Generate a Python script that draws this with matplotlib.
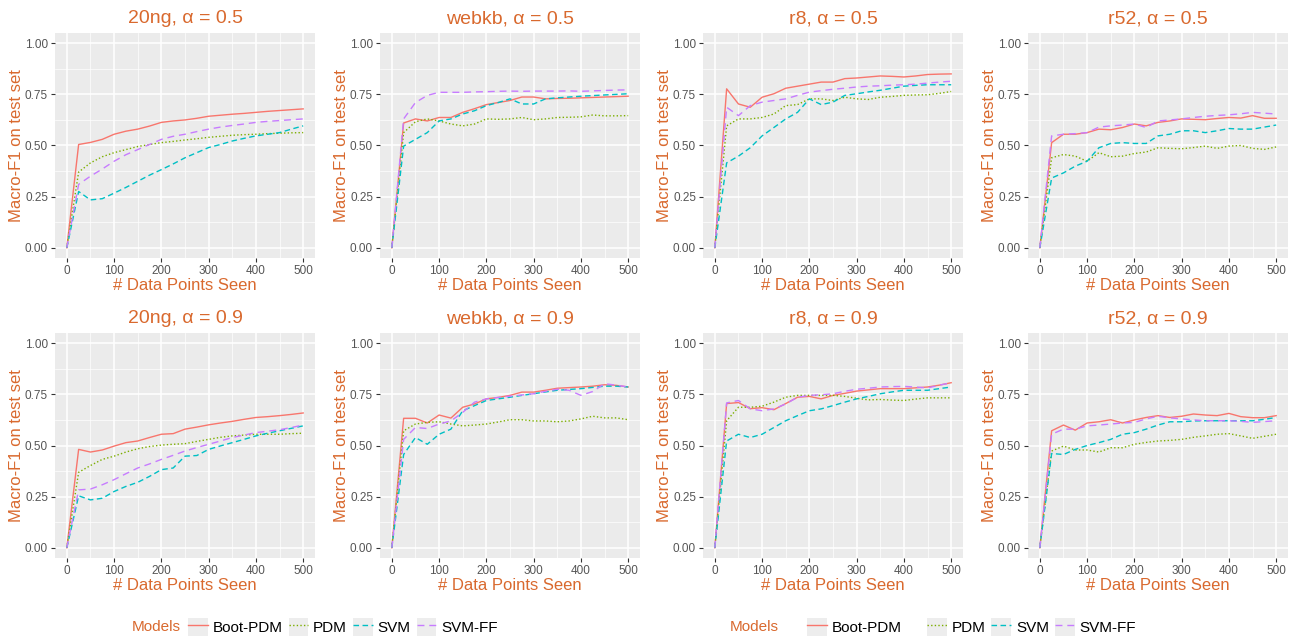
import matplotlib
matplotlib.use('Agg')
import matplotlib.pyplot as plt
from matplotlib.patches import Rectangle
from matplotlib.lines import Line2D
from matplotlib.legend_handler import HandlerTuple

plt.rcParams['font.family'] = ['Liberation Sans', 'DejaVu Sans']

x = [0, 25, 50, 75, 100, 125, 150, 175, 200, 225, 250, 275, 300, 325, 350, 375, 400, 425, 450, 475, 500]
models = ['Boot-PDM', 'PDM', 'SVM', 'SVM-FF']

# 20ng, alpha = 0.5
ng_05_boot = [0, .505, .515, .53, .555, .57, .58, .595, .613, .62, .625, .633, .643, .648, .653, .657, .662, .667, .671, .675, .679]
ng_05_pdm = [0, .37, .415, .445, .465, .48, .495, .505, .514, .52, .527, .533, .54, .545, .55, .553, .555, .558, .56, .562, .563]
ng_05_svm = [0, .275, .234, .24, .267, .295, .325, .355, .382, .41, .44, .465, .49, .505, .522, .535, .547, .555, .563, .58, .596]
ng_05_svmff = [0, .31, .35, .385, .423, .455, .48, .505, .53, .545, .555, .568, .58, .59, .598, .605, .613, .618, .622, .626, .63]

# webkb, alpha = 0.5
wk_05_boot = [0, .61, .63, .62, .637, .637, .662, .68, .70, .71, .72, .737, .737, .728, .73, .731, .733, .735, .737, .739, .741]
wk_05_pdm = [0, .563, .616, .63, .62, .605, .596, .605, .63, .628, .63, .637, .626, .63, .637, .638, .64, .649, .645, .645, .646]
wk_05_svm = [0, .497, .53, .563, .62, .63, .654, .67, .695, .71, .728, .703, .703, .728, .733, .737, .741, .744, .747, .75, .753]
wk_05_svmff = [0, .63, .71, .745, .76, .76, .76, .762, .763, .765, .766, .765, .766, .766, .766, .767, .765, .767, .769, .771, .772]

# r8, alpha = 0.5
r8_05_boot = [0, .777, .703, .687, .736, .753, .78, .79, .80, .81, .81, .827, .83, .835, .84, .838, .835, .84, .847, .849, .85]
r8_05_pdm = [0, .596, .63, .63, .637, .654, .695, .70, .728, .728, .72, .736, .728, .725, .736, .74, .745, .747, .748, .755, .764]
r8_05_svm = [0, .415, .448, .489, .547, .588, .63, .662, .728, .70, .712, .745, .753, .762, .77, .78, .79, .794, .797, .797, .797]
r8_05_svmff = [0, .687, .646, .695, .712, .72, .728, .745, .761, .768, .775, .78, .786, .79, .792, .795, .797, .80, .805, .81, .814]

# r52, alpha = 0.5
r52_05_boot = [0, .514, .555, .555, .563, .58, .577, .588, .605, .596, .613, .62, .63, .628, .626, .632, .637, .634, .646, .633, .633]
r52_05_pdm = [0, .44, .456, .448, .423, .465, .445, .448, .461, .468, .489, .486, .484, .49, .497, .486, .497, .50, .486, .481, .493]
r52_05_svm = [0, .341, .366, .399, .423, .489, .51, .514, .51, .51, .547, .555, .572, .572, .563, .572, .583, .58, .58, .59, .60]
r52_05_svmff = [0, .547, .555, .558, .563, .59, .596, .60, .605, .588, .62, .625, .63, .637, .643, .647, .65, .655, .662, .658, .654]

# 20ng, alpha = 0.9
ng_09_boot = [0, .481, .468, .478, .497, .514, .522, .539, .555, .558, .58, .59, .601, .61, .618, .628, .637, .641, .646, .652, .659]
ng_09_pdm = [0, .369, .402, .432, .448, .468, .484, .495, .502, .506, .509, .52, .53, .54, .547, .551, .555, .555, .555, .558, .56]
ng_09_svm = [0, .254, .234, .242, .275, .30, .32, .349, .382, .39, .448, .451, .481, .498, .514, .53, .547, .56, .572, .584, .596]
ng_09_svmff = [0, .283, .287, .308, .333, .362, .39, .41, .432, .452, .473, .49, .506, .522, .539, .551, .563, .57, .577, .588, .60]

# webkb, alpha = 0.9
wk_09_boot = [0, .633, .633, .61, .649, .634, .687, .703, .728, .735, .745, .761, .761, .77, .78, .783, .786, .79, .797, .794, .786]
wk_09_pdm = [0, .572, .605, .613, .616, .605, .596, .60, .605, .615, .626, .626, .62, .62, .616, .62, .63, .643, .635, .635, .626]
wk_09_svm = [0, .456, .539, .506, .555, .58, .67, .695, .72, .728, .736, .745, .753, .762, .77, .774, .778, .784, .79, .79, .786]
wk_09_svmff = [0, .53, .588, .583, .605, .62, .662, .712, .728, .735, .741, .747, .753, .765, .775, .77, .745, .764, .802, .795, .786]

# r8, alpha = 0.9
r8_09_boot = [0, .705, .71, .68, .685, .675, .705, .736, .74, .728, .745, .755, .766, .772, .778, .778, .778, .782, .786, .795, .807]
r8_09_pdm = [0, .621, .687, .687, .692, .712, .736, .745, .745, .745, .745, .74, .731, .723, .725, .722, .72, .727, .733, .733, .733]
r8_09_svm = [0, .522, .555, .539, .555, .588, .621, .646, .67, .679, .695, .712, .728, .74, .753, .762, .77, .77, .77, .778, .786]
r8_09_svmff = [0, .708, .72, .679, .67, .679, .703, .736, .745, .748, .753, .765, .775, .78, .786, .788, .789, .786, .781, .795, .807]

# r52, alpha = 0.9
r52_09_boot = [0, .572, .60, .575, .61, .616, .626, .61, .625, .637, .646, .637, .643, .654, .649, .646, .657, .641, .636, .636, .646]
r52_09_pdm = [0, .473, .497, .478, .478, .468, .489, .489, .506, .515, .522, .525, .53, .54, .547, .555, .558, .547, .535, .545, .555]
r52_09_svm = [0, .461, .456, .481, .50, .514, .53, .555, .563, .58, .60, .616, .616, .62, .621, .621, .621, .621, .621, .628, .637]
r52_09_svmff = [0, .555, .58, .58, .596, .60, .605, .61, .613, .63, .643, .635, .63, .625, .621, .621, .621, .618, .613, .617, .621]

titles = ['20ng, α = 0.5', 'webkb, α = 0.5', 'r8, α = 0.5', 'r52, α = 0.5',
          '20ng, α = 0.9', 'webkb, α = 0.9', 'r8, α = 0.9', 'r52, α = 0.9']
panels = [
    [ng_05_boot, ng_05_pdm, ng_05_svm, ng_05_svmff],
    [wk_05_boot, wk_05_pdm, wk_05_svm, wk_05_svmff],
    [r8_05_boot, r8_05_pdm, r8_05_svm, r8_05_svmff],
    [r52_05_boot, r52_05_pdm, r52_05_svm, r52_05_svmff],
    [ng_09_boot, ng_09_pdm, ng_09_svm, ng_09_svmff],
    [wk_09_boot, wk_09_pdm, wk_09_svm, wk_09_svmff],
    [r8_09_boot, r8_09_pdm, r8_09_svm, r8_09_svmff],
    [r52_09_boot, r52_09_pdm, r52_09_svm, r52_09_svmff],
]

colors = ['#F8766D', '#7CAE00', '#00BFC4', '#C77CFF']
styles = ['-', (0, (1, 1.6)), (0, (4, 2.5)), (0, (5, 3.5))]
orange = '#D9692E'

W, H = 1298, 641
fig = plt.figure(figsize=(W / 100, H / 100), dpi=100)

lefts = [55, 380, 703, 1028]
tops = [33, 333]
pw, ph = 260, 225

for i, series in enumerate(panels):
    r, c = divmod(i, 4)
    ax = fig.add_axes([lefts[c] / W, 1 - (tops[r] + ph) / H, pw / W, ph / H])
    ax.set_facecolor('#EBEBEB')
    for s in ax.spines.values():
        s.set_visible(False)
    ax.set_xlim(-25, 525)
    ax.set_ylim(-0.05, 1.05)
    ax.set_xticks([0, 100, 200, 300, 400, 500])
    ax.set_xticks([50, 150, 250, 350, 450], minor=True)
    ax.set_yticks([0, 0.25, 0.5, 0.75, 1.0])
    ax.set_yticklabels(['0.00', '0.25', '0.50', '0.75', '1.00'])
    ax.set_yticks([0.125, 0.375, 0.625, 0.875], minor=True)
    ax.grid(which='major', color='white', lw=1.1)
    ax.grid(which='minor', color='white', lw=0.5)
    ax.set_axisbelow(True)
    ax.tick_params(which='major', length=3, width=0.8, color='#333333', labelsize=8.5,
                   labelcolor='#555555', pad=2)
    ax.tick_params(which='minor', length=0)
    for k in range(4):
        ax.plot(x, series[k], color=colors[k], linestyle=styles[k], lw=1.0)
    ax.set_title(titles[i], color=orange, fontsize=14, pad=7)
    ax.set_xlabel('# Data Points Seen', color=orange, fontsize=12, labelpad=1)
    ax.set_ylabel('Macro-F1 on test set', color=orange, fontsize=12, labelpad=1)

# legends
def key(k):
    box = Rectangle((0, 0), 1, 1, facecolor='#EDEDED', edgecolor='none')
    ln = Line2D([], [], color=colors[k], linestyle=styles[k], lw=1.0)
    return (box, ln)

leg_kw = dict(frameon=False, handler_map={tuple: HandlerTuple(ndivide=1, pad=0)},
              fontsize=11, handlelength=1.3, handleheight=1.4, handletextpad=0.3,
              columnspacing=0.4, borderpad=0, borderaxespad=0, loc='center left')
ly = 1 - 627 / H

fig.text(132 / W, ly, 'Models', color=orange, fontsize=11, va='center')
fig.legend([key(k) for k in range(4)], models, ncol=4, bbox_to_anchor=(188 / W, ly), **leg_kw)

fig.text(730 / W, ly, 'Models', color=orange, fontsize=11, va='center')
fig.legend([key(0)], models[:1], ncol=1, bbox_to_anchor=(807 / W, ly), **leg_kw)
fig.legend([key(k) for k in range(1, 4)], models[1:], ncol=3, bbox_to_anchor=(927 / W, ly), **leg_kw)

fig.savefig('out.png', dpi=100)
